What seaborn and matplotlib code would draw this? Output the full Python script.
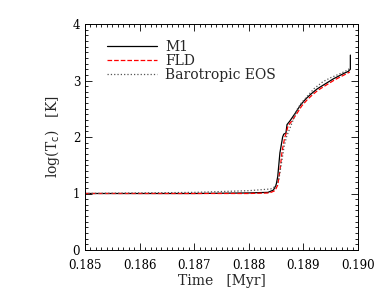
import numpy as np
import pandas as pd
import matplotlib
matplotlib.use("Agg")
import matplotlib.pyplot as plt
from matplotlib.ticker import MultipleLocator
import seaborn as sns

# values
m1_time = [0.1850, 0.1860, 0.1870, 0.1880, 0.18835, 0.18845, 0.18850, 0.18853, 0.18857,
           0.18862, 0.18864, 0.18868, 0.18870, 0.18875, 0.18885, 0.18895, 0.18905, 0.18915,
           0.18925, 0.18935, 0.18945, 0.18955, 0.18965, 0.18975, 0.18982, 0.18986, 0.18986]
m1_logT = [1.00, 1.00, 1.00, 1.01, 1.02, 1.06, 1.15, 1.30, 1.72,
           2.00, 2.05, 2.07, 2.22, 2.28, 2.42, 2.57, 2.68, 2.77,
           2.85, 2.91, 2.97, 3.03, 3.08, 3.13, 3.16, 3.20, 3.45]

fld_time = [0.1850, 0.1860, 0.1870, 0.1880, 0.18838, 0.18848, 0.18853, 0.18857, 0.18861,
            0.18866, 0.18868, 0.18872, 0.18877, 0.18887, 0.18897, 0.18907, 0.18917,
            0.18927, 0.18937, 0.18947, 0.18957, 0.18967, 0.18977, 0.18985]
fld_logT = [1.00, 1.00, 1.00, 1.00, 1.01, 1.05, 1.15, 1.40, 1.75,
            2.00, 2.05, 2.20, 2.26, 2.40, 2.55, 2.66, 2.75, 2.83, 2.89, 2.95, 3.01,
            3.06, 3.11, 3.15]

baro_time = [0.1850, 0.1860, 0.1870, 0.1880, 0.1884, 0.18848, 0.18855, 0.18860, 0.18865,
             0.18869, 0.18875, 0.18882, 0.18888, 0.18896, 0.18906, 0.18920, 0.18936,
             0.18950, 0.18967, 0.18980, 0.18986]
baro_logT = [1.00, 1.01, 1.02, 1.05, 1.08, 1.12, 1.25, 1.55, 1.85,
             2.00, 2.15, 2.32, 2.48, 2.60, 2.71, 2.86, 2.98, 3.05, 3.12, 3.18, 3.22]

df = pd.concat([
    pd.DataFrame({"time": m1_time, "logT": m1_logT, "model": "M1"}),
    pd.DataFrame({"time": fld_time, "logT": fld_logT, "model": "FLD"}),
    pd.DataFrame({"time": baro_time, "logT": baro_logT, "model": "Barotropic EOS"}),
], ignore_index=True)

sns.set_style("ticks")
plt.rcParams["font.family"] = ["DejaVu Serif"]

fig = plt.figure(figsize=(3.82, 3.0), dpi=100)
ax = fig.add_axes([85 / 382, 50 / 300, 273 / 382, 226 / 300])

styles = {"M1": ("black", "-"), "FLD": ("red", "--"), "Barotropic EOS": ("#555555", ":")}
for name, (col, ls) in styles.items():
    sns.lineplot(data=df[df["model"] == name], x="time", y="logT", ax=ax,
                 estimator=None, sort=False, color=col, linestyle=ls,
                 linewidth=0.9, label=name)

ax.set_xlim(0.185, 0.190)
ax.set_ylim(0, 4)
ax.xaxis.set_major_locator(MultipleLocator(0.001))
ax.xaxis.set_minor_locator(MultipleLocator(0.0001))
ax.yaxis.set_major_locator(MultipleLocator(1))
ax.yaxis.set_minor_locator(MultipleLocator(0.1))
ax.xaxis.set_major_formatter(plt.FormatStrFormatter("%.3f"))
ax.tick_params(which="both", direction="in", top=True, right=True,
               width=0.6, labelsize=8.5, colors="black")
ax.tick_params(which="major", length=5)
ax.tick_params(which="minor", length=2.5)
ax.tick_params(axis="x", pad=6.5)
ax.tick_params(axis="y", pad=3.5)
for sp in ax.spines.values():
    sp.set_linewidth(0.7)
    sp.set_color("black")

ax.set_xlabel("Time   [Myr]", fontsize=10)
ax.set_ylabel(r"log(T$_{\rm c}$)   [K]", fontsize=10)
ax.xaxis.set_label_coords(0.5, -0.105)
ax.yaxis.set_label_coords(-0.085, 0.5)

ax.legend(loc="upper left", frameon=False, prop={"size": 10},
          handlelength=3.6, labelspacing=0.0, handletextpad=0.6, borderaxespad=0.0,
          bbox_to_anchor=(0.06, 0.955))

fig.savefig("out.png", dpi=100)
